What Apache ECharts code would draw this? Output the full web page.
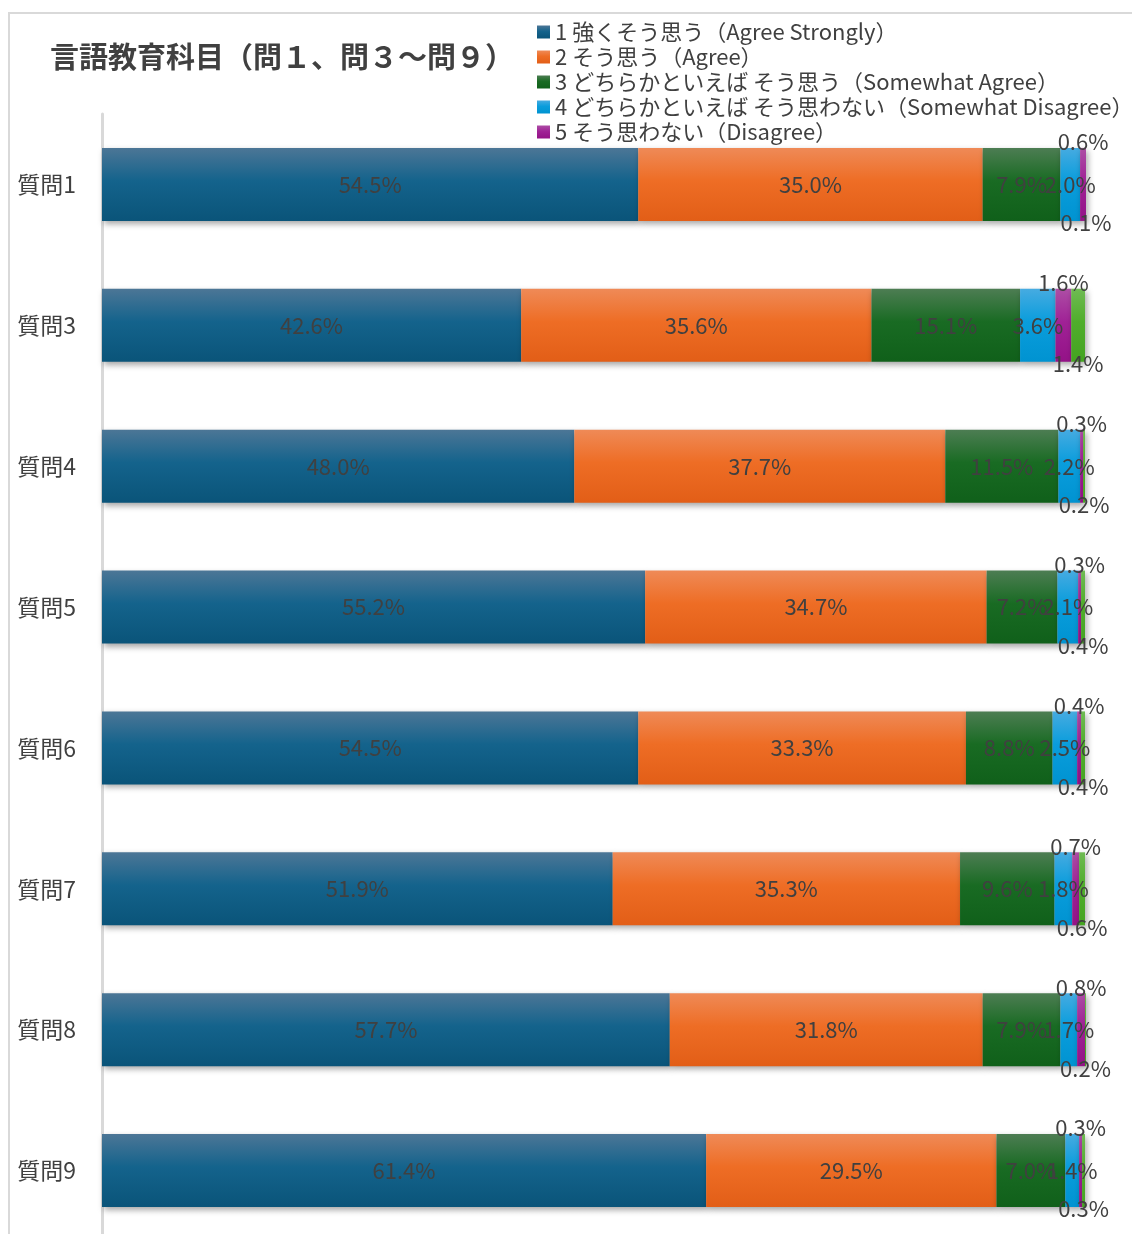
<!DOCTYPE html>
<html>
<head>
<meta charset="utf-8">
<script src="https://cdn.jsdelivr.net/npm/echarts@6/dist/echarts.min.js"></script>
<style>
html,body{margin:0;padding:0;background:#fff;overflow:hidden;}
#chart{width:1132px;height:1250px;}
</style>
</head>
<body>
<div id="chart"></div>
<script>
const categories = ['質問1','質問3','質問4','質問5','質問6','質問7','質問8','質問9'];
const seriesNames = [
  '1 強くそう思う（Agree Strongly）',
  '2 そう思う（Agree）',
  '3 どちらかといえば そう思う（Somewhat Agree）',
  '4 どちらかといえば そう思わない（Somewhat Disagree）',
  '5 そう思わない（Disagree）',
  '無回答'
];
const agreeStrongly    = [54.5, 42.6, 48.0, 55.2, 54.5, 51.9, 57.7, 61.4];
const agree            = [35.0, 35.6, 37.7, 34.7, 33.3, 35.3, 31.8, 29.5];
const somewhatAgree    = [7.9, 15.1, 11.5, 7.2, 8.8, 9.6, 7.9, 7.0];
const somewhatDisagree = [2.0, 3.6, 2.2, 2.1, 2.5, 1.8, 1.7, 1.4];
const disagree         = [0.6, 1.6, 0.3, 0.3, 0.4, 0.7, 0.8, 0.3];
const noAnswer         = [0.1, 1.4, 0.2, 0.4, 0.4, 0.6, 0.2, 0.3];
const allValues = [agreeStrongly, agree, somewhatAgree, somewhatDisagree, disagree, noAnswer];

const FONT = '"Noto Sans CJK JP", "Noto Sans", sans-serif';
const gradients = [
  ['#4c7696', '#14638c', '#0a5479'],
  ['#ef8a57', '#ee6d25', '#e25e17'],
  ['#4d7d53', '#196b23', '#10601a'],
  ['#46abe1', '#0a9ddc', '#0093d1'],
  ['#ad4ea5', '#a02296', '#941287'],
  ['#6fba53', '#50ae2c', '#44a421']
];
function grad(c) {
  return {type: 'linear', x: 0, y: 0, x2: 0, y2: 1,
    colorStops: [{offset: 0, color: c[0]}, {offset: 0.45, color: c[1]}, {offset: 1, color: c[2]}]};
}
const labelBase = {
  show: true,
  color: '#404040',
  fontFamily: FONT,
  fontSize: 22,
  formatter: p => p.value.toFixed(1) + '%'
};
const series = allValues.map((vals, i) => {
  let label;
  if (i < 4) label = Object.assign({}, labelBase, {position: 'inside'});
  else if (i === 4) label = Object.assign({}, labelBase, {position: ['50%', -6], align: 'center', verticalAlign: 'middle'});
  else label = Object.assign({}, labelBase, {position: ['50%', '100%'], offset: [0, 2], align: 'center', verticalAlign: 'middle'});
  return {
    name: seriesNames[i],
    type: 'bar',
    stack: 'total',
    barWidth: 73,
    data: vals,
    itemStyle: {
      color: grad(gradients[i]),
      shadowColor: 'rgba(0,0,0,0.35)',
      shadowBlur: 6,
      shadowOffsetX: 2,
      shadowOffsetY: 3
    },
    label: label,
    emphasis: {disabled: true},
    z: 2
  };
});

const chart = echarts.init(document.getElementById('chart'), null, {renderer: 'canvas'});
chart.setOption({
  animation: false,
  backgroundColor: '#ffffff',
  title: {
    text: '言語教育科目（問１、問３～問９）',
    left: 45,
    top: 37,
    textStyle: {fontFamily: FONT, fontSize: 29, fontWeight: 'bold', color: '#404040'}
  },
  legend: {
    data: seriesNames.slice(0, 5),
    orient: 'vertical',
    left: 532,
    top: 16,
    itemWidth: 13,
    itemHeight: 13,
    itemGap: 3,
    icon: 'rect',
    textStyle: {fontFamily: FONT, fontSize: 22, color: '#404040', lineHeight: 22}
  },
  grid: {left: 102, top: 114, width: 984, height: 1127, containLabel: false},
  xAxis: {type: 'value', min: 0, max: 100, show: false},
  yAxis: {
    type: 'category',
    data: categories,
    inverse: true,
    offset: 1,
    axisLine: {show: true, lineStyle: {color: '#d9d9d9', width: 3}},
    axisTick: {show: false},
    axisLabel: {fontFamily: FONT, fontSize: 23, color: '#404040', margin: 25}
  },
  graphic: [{
    type: 'rect',
    shape: {x: 9, y: 13, width: 1140, height: 1260},
    style: {fill: 'none', stroke: '#d9d9d9', lineWidth: 2},
    silent: true,
    z: -10
  }],
  series: series
});
</script>
</body>
</html>
